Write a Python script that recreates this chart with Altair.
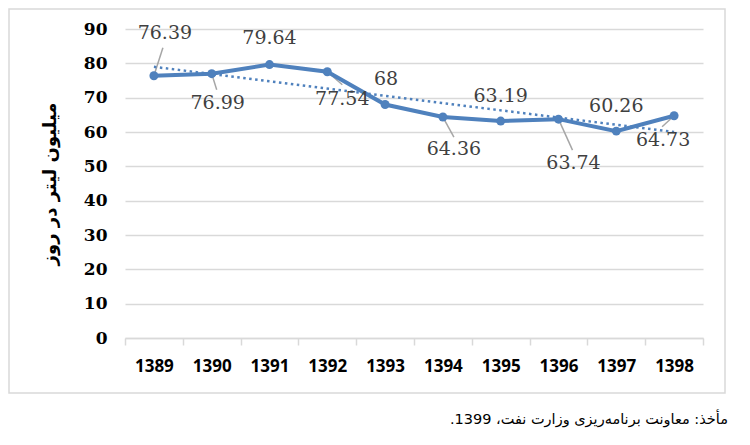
import json
import altair as alt
import pandas as pd

# ---- data ----
years = ["1389", "1390", "1391", "1392", "1393", "1394", "1395", "1396", "1397", "1398"]
values = [76.39, 76.99, 79.64, 77.54, 68, 64.36, 63.19, 63.74, 60.26, 64.73]
labels = ["76.39", "76.99", "79.64", "77.54", "68", "64.36", "63.19", "63.74", "60.26", "64.73"]

# manual data-label placement (pixel offsets from each point), as dragged in the original
label_dx = [11, 6, 0, 15, 1, 11, 0, 15, 0, -11]
label_dy = [-43, 29, -27, 27, -26, 32, -25, 44, -25, 24]
leader_dx = [9, 5, None, 15, None, 11, None, 14, None, -12]
leader_dy = [-28, 16, None, 13, None, 20, None, 31, None, 11]

y_title = "میلیون لیتر در روز"
source_text = "\u202bمأخذ: معاونت برنامه\u200cریزی وزارت نفت، 1399.\u202c"

# ---- layout ----
W, H = 578, 309
YMAX = 90
n = len(years)
PX = W / n
PY = H / YMAX
BLUE = "#4F81BD"
GRID = "#D9D9D9"

df = pd.DataFrame({
    "idx": list(range(n)), "year": years, "v": values, "label": labels,
    "ldx": label_dx, "ldy": label_dy, "kdx": leader_dx, "kdy": leader_dy,
})
one = pd.DataFrame({"a": [0]})

xs = alt.Scale(domain=[-0.5, n - 0.5], nice=False, zero=False)
ys = alt.Scale(domain=[0, YMAX], nice=False, zero=True)

x_axis = alt.Axis(
    values=[i - 0.5 for i in range(n + 1)],
    labelExpr=f"datum.value < {n - 1} ? {json.dumps(years)}[datum.value + 0.5] : ''",
    labelOffset=PX / 2, labelFlush=False, labelOverlap=False, labelBound=False,
    grid=False, tickSize=7, tickColor=GRID, tickWidth=1.5,
    domainColor=GRID, domainWidth=1.5,
    labelFont="Noto Sans", labelFontWeight="bold", labelFontSize=17,
    labelColor="#000000", labelPadding=13, title=None,
)
y_axis = alt.Axis(
    values=list(range(0, YMAX + 1, 10)),
    grid=True, gridColor=GRID, gridWidth=1.5, domain=False, ticks=False,
    labelFont="DejaVu Serif", labelFontWeight="bold", labelFontSize=17,
    labelColor="#000000", labelPadding=18,
    title=y_title, titleFont="DejaVu Sans", titleFontWeight="bold", titleFontSize=18,
    titleColor="#000000", titleAngle=270, titleX=-75, titleY=H / 2,
    titleAlign="center", titleBaseline="middle",
)


def X(f):
    return alt.X(f, scale=xs, axis=x_axis)


def Y(f):
    return alt.Y(f, scale=ys, axis=y_axis)


base = alt.Chart(df)

frame = alt.Chart(one).mark_rect(
    fillOpacity=0, stroke=GRID, strokeWidth=1.5
).encode(
    x=alt.value(-116), x2=alt.value(600), y=alt.value(-20), y2=alt.value(364)
)

leaders = base.transform_filter("datum.kdx != null").transform_calculate(
    x2=f"datum.idx + datum.kdx / {PX}", y2=f"datum.v - datum.kdy / {PY}"
).mark_rule(color="#A6A6A6", strokeWidth=1.5).encode(
    x=X("idx:Q"), y=Y("v:Q"), x2="x2:Q", y2="y2:Q"
)

line = base.mark_line(color=BLUE, strokeWidth=4).encode(x=X("idx:Q"), y=Y("v:Q"))
points = base.mark_circle(color=BLUE, size=80, opacity=1).encode(x=X("idx:Q"), y=Y("v:Q"))

# linear trend line (Excel-style), fitted by Vega: regress v on idx
trend = base.transform_regression(
    "idx", "v", method="linear", extent=[0, n - 1], as_=["tx", "ty"]
).mark_line(
    color=BLUE, strokeWidth=2.5, strokeDash=[2.5, 3.5]
).encode(x=X("tx:Q"), y=Y("ty:Q"))

text = base.transform_calculate(
    lx=f"datum.idx + datum.ldx / {PX}", ly=f"datum.v - datum.ldy / {PY}"
).mark_text(font="DejaVu Serif", fontSize=19, color="#404040",
            align="center", baseline="middle").encode(
    x=X("lx:Q"), y=Y("ly:Q"), text="label:N"
)

source = alt.Chart(one).mark_text(
    align="right", baseline="middle", font="DejaVu Sans", fontSize=14.5, color="#000000"
).encode(x=alt.value(603), y=alt.value(391), text=alt.value(source_text))

chart = alt.layer(frame, leaders, line, points, trend, text, source).properties(
    width=W, height=H, autosize="none",
    padding={"left": 117, "top": 21, "right": 25, "bottom": 90},
).configure_view(stroke=None)

chart.save("out.html", embed_options={"renderer": "svg", "actions": False})
